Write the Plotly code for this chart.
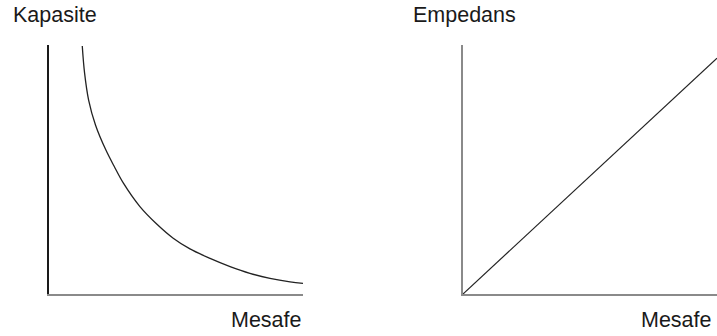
from plotly import graph_objects as go
from plotly.subplots import make_subplots

# readings from the reference (arbitrary units, axes run 0..10)
kapasite_mesafe = [1.31, 1.40, 1.56, 1.83, 2.24, 2.56, 2.93, 3.58, 4.24, 4.89, 5.55, 6.34, 7.13, 7.91, 8.70, 9.49, 10.0]
kapasite_deger = [9.96, 8.88, 7.79, 6.79, 5.78, 5.14, 4.45, 3.51, 2.81, 2.24, 1.81, 1.43, 1.10, 0.83, 0.63, 0.49, 0.43]

empedans_mesafe = [0, 10]
empedans_deger = [0, 9.47]

W, H = 717, 336


def px_x(p):
    return p / W


def px_y(p):
    return (H - p) / H


fig = make_subplots(rows=1, cols=2)

fig.add_trace(  # capacitance curve
    go.Scatter(
        x=kapasite_mesafe,
        y=kapasite_deger,
        mode="lines",
        line=dict(color="#222222", width=1.3, shape="spline", smoothing=1),
        showlegend=False,
        hoverinfo="skip",
    ),
    row=1,
    col=1,
)

fig.add_trace(  # impedance line
    go.Scatter(
        x=empedans_mesafe,
        y=empedans_deger,
        mode="lines",
        line=dict(color="#222222", width=1.2),
        showlegend=False,
        hoverinfo="skip",
    ),
    row=1,
    col=2,
)

axis_common = dict(showgrid=False, zeroline=False, showticklabels=False, ticks="", range=[0, 10])

fig.update_xaxes(domain=[px_x(49), px_x(303)], showline=True, linecolor="#8a8a8a", linewidth=2, row=1, col=1, **axis_common)
fig.update_yaxes(domain=[px_y(294), px_y(45)], showline=True, linecolor="#1a1a1a", linewidth=1.5, row=1, col=1, **axis_common)
fig.update_xaxes(domain=[px_x(463), 1.0], showline=True, linecolor="#8a8a8a", linewidth=2, row=1, col=2, **axis_common)
fig.update_yaxes(domain=[px_y(294), px_y(45)], showline=True, linecolor="#8a8a8a", linewidth=1.5, row=1, col=2, **axis_common)

label_font = dict(family="Liberation Sans, Arial, sans-serif", size=21.5, color="#1a1a1a")
labels = [
    ("Kapasite", 11, 15.5, "left"),
    ("Empedans", 411, 15.5, "left"),
    ("Mesafe", 304, 319.5, "right"),
    ("Mesafe", 714, 319.5, "right"),
]
for text, x, y, anchor in labels:
    fig.add_annotation(
        text=text,
        xref="paper",
        yref="paper",
        x=px_x(x),
        y=px_y(y),
        xanchor=anchor,
        yanchor="middle",
        showarrow=False,
        font=label_font,
    )

fig.update_layout(
    width=W,
    height=H,
    margin=dict(l=0, r=0, t=0, b=0),
    paper_bgcolor="white",
    plot_bgcolor="white",
    showlegend=False,
)

# drop the browser's default body margin so the figure sits at the page corner
fig.write_html(
    "out.html",
    config=dict(displayModeBar=False),
    post_script="document.body.style.margin='0';document.body.style.overflow='hidden';",
)
